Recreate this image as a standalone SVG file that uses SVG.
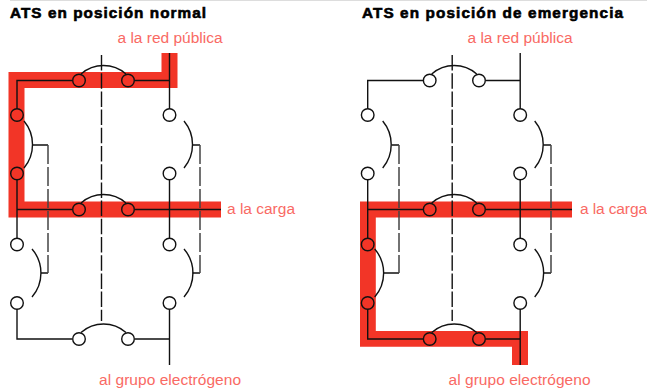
<svg xmlns="http://www.w3.org/2000/svg" width="647" height="391" viewBox="0 0 647 391">
<defs>
<style>
.t{font-family:"Liberation Sans",Arial,sans-serif;font-weight:bold;font-size:15.3px;fill:#000;stroke:#000;stroke-width:.6px}
.l{font-family:"Liberation Sans",Arial,sans-serif;font-size:15.5px;fill:#f96a64}
.r{fill:#f23527}
.w{fill:none;stroke:#111;stroke-width:1.4}
.d{fill:none;stroke:#111;stroke-width:1.4;stroke-dasharray:15.500 2.700}
.s{fill:none;stroke:#444;stroke-width:1.5;stroke-dasharray:19 3}
.c{fill:#fff;stroke:#111;stroke-width:1.4}
.on{fill:#f23527;stroke:#111;stroke-width:1.4}
</style>
</defs>
<rect width="647" height="391" fill="#fff"/>
<rect x="10" y="0" width="637" height="1" fill="#ddd"/>
<g id="title-normal"><text class="t" x="10" y="18" textLength="196" lengthAdjust="spacing">ATS en posición normal</text></g>
<g id="title-emergencia"><text class="t" x="362" y="18" textLength="261" lengthAdjust="spacing">ATS en posición de emergencia</text></g>
<g id="connectors">
<g id="power-paths">
<path class="r" d="M8.500 72H161.500V53H177.500V88H24.500V201.500H221V217.500H8.500Z"/>
<path class="r" d="M360 201.500H572V217.500H375.800V331H528V365H512V346.700H360Z"/>
</g>
<g id="wires-left">
<path class="w" d="M169.500 53V115M72 80.500H17V115M135 80.500H169.500M17 173.500V244.500"/>
<path class="w" d="M17 209.500H72M135 209.500H221M169.500 173.500V244.500M17 303V339H72M135 339H169.500M169.500 303V365"/>
<path class="w" d="M81 74A34 34 0 0 1 126 74M81 203A34 34 0 0 1 126 203M81 332.500A34 34 0 0 1 126 332.500"/>
<path class="w" d="M24 121A36.700 36.700 0 0 1 24 168M32 249A36.700 36.700 0 0 1 32 297M184 121A36.700 36.700 0 0 1 184 168M184 249A36.700 36.700 0 0 1 184 297"/>
<path class="w" d="M32.500 145H48M192.500 145H200M41 273H48M192.500 273H200"/>
<path class="d" d="M101.500 55V321"/>
<path class="s" d="M48 145V273M200 145V273"/>
</g>
<g id="wires-right">
<path class="w" d="M520.200 53V115M423 80.500H367.700V115M486 80.500H520.200M367.700 173.500V244.500"/>
<path class="w" d="M367.700 209.500H423M486 209.500H572M520.200 173.500V244.500M367.700 303V339H423M486 339H520.200M520.200 303V365"/>
<path class="w" d="M431.700 74A34 34 0 0 1 476.700 74M431.700 203A34 34 0 0 1 476.700 203M431.700 332.500A34 34 0 0 1 476.700 332.500"/>
<path class="w" d="M382.700 121A36.700 36.700 0 0 1 382.700 168M374.700 249A36.700 36.700 0 0 1 374.700 297M534.700 121A36.700 36.700 0 0 1 534.700 168M534.700 249A36.700 36.700 0 0 1 534.700 297"/>
<path class="w" d="M383.200 273H399M391.700 145H399M543.200 145H551M543.200 273H551"/>
<path class="d" d="M452.200 55V321"/>
<path class="s" d="M399 145V273M551 145V273"/>
</g>
</g>
<g id="contacts-left">
<circle class="on" cx="79" cy="80.500" r="6.300"/><circle class="on" cx="128" cy="80.500" r="6.300"/>
<circle class="on" cx="17" cy="115" r="6.300"/><circle class="on" cx="17" cy="173.500" r="6.300"/>
<circle class="c" cx="169.500" cy="115" r="6.300"/><circle class="c" cx="169.500" cy="173.500" r="6.300"/>
<circle class="on" cx="79" cy="209.500" r="6.300"/><circle class="on" cx="128" cy="209.500" r="6.300"/>
<circle class="c" cx="17" cy="244.500" r="6.300"/><circle class="c" cx="17" cy="303" r="6.300"/>
<circle class="c" cx="169.500" cy="244.500" r="6.300"/><circle class="c" cx="169.500" cy="303" r="6.300"/>
<circle class="c" cx="79" cy="339" r="6.300"/><circle class="c" cx="128" cy="339" r="6.300"/>
</g>
<g id="contacts-right">
<circle class="c" cx="429.700" cy="80.500" r="6.300"/><circle class="c" cx="479" cy="80.500" r="6.300"/>
<circle class="c" cx="367.700" cy="115" r="6.300"/><circle class="c" cx="367.700" cy="173.500" r="6.300"/>
<circle class="c" cx="520.200" cy="115" r="6.300"/><circle class="c" cx="520.200" cy="173.500" r="6.300"/>
<circle class="on" cx="429.700" cy="209.500" r="6.300"/><circle class="on" cx="479" cy="209.500" r="6.300"/>
<circle class="on" cx="367.700" cy="244.500" r="6.300"/><circle class="on" cx="367.700" cy="303" r="6.300"/>
<circle class="c" cx="520.200" cy="244.500" r="6.300"/><circle class="c" cx="520.200" cy="303" r="6.300"/>
<circle class="on" cx="429.700" cy="339" r="6.300"/><circle class="on" cx="479" cy="339" r="6.300"/>
</g>
<g id="labels">
<text class="l" x="117.500" y="43" textLength="105">a la red pública</text>
<text class="l" x="467.500" y="43" textLength="105">a la red pública</text>
<text class="l" x="227" y="214" textLength="68">a la carga</text>
<text class="l" x="580" y="214" textLength="67">a la carga</text>
<text class="l" x="99" y="385" textLength="142">al grupo electrógeno</text>
<text class="l" x="448.500" y="385" textLength="142">al grupo electrógeno</text>
</g>
</svg>
